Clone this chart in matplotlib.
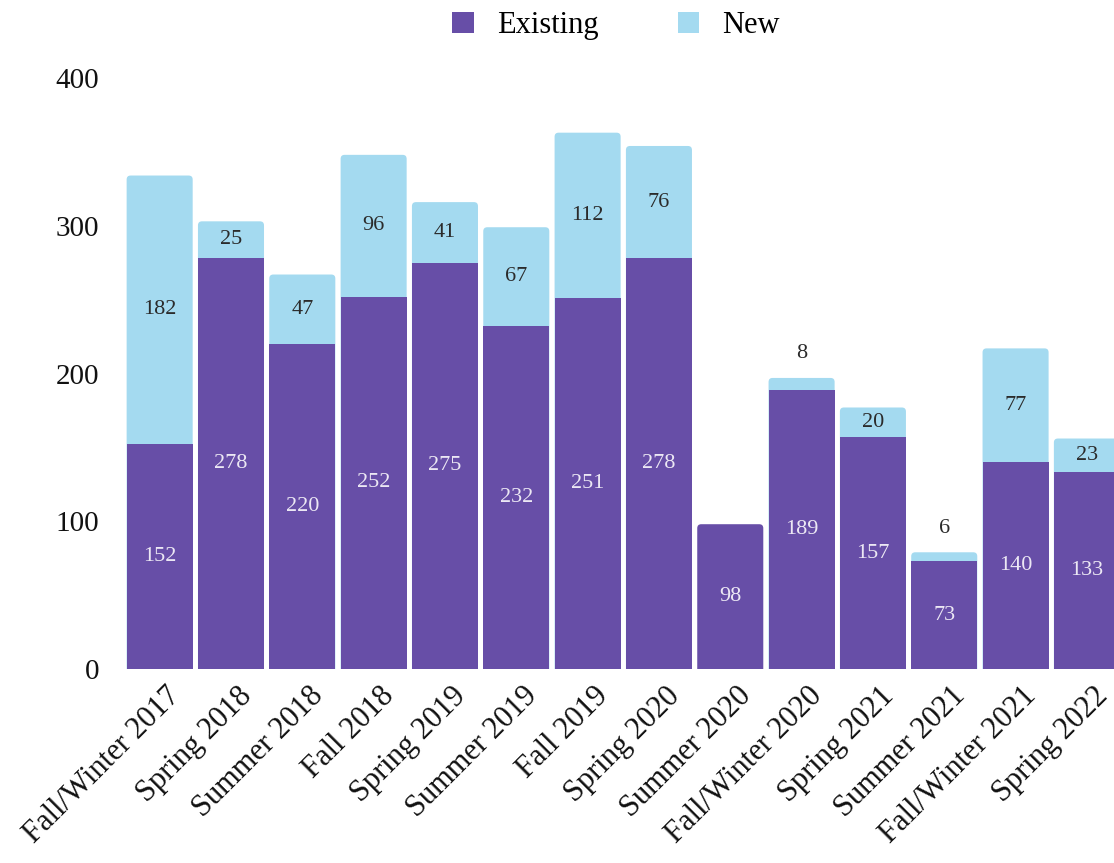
import matplotlib
matplotlib.use("Agg")
import matplotlib.pyplot as plt
import matplotlib.transforms as mtransforms
from matplotlib.patches import FancyBboxPatch, Patch

terms = ["Fall/Winter 2017", "Spring 2018", "Summer 2018", "Fall 2018",
         "Spring 2019", "Summer 2019", "Fall 2019", "Spring 2020",
         "Summer 2020", "Fall/Winter 2020", "Spring 2021", "Summer 2021",
         "Fall/Winter 2021", "Spring 2022"]
existing = [152, 278, 220, 252, 275, 232, 251, 278, 98, 189, 157, 73, 140, 133]
new = [182, 25, 47, 96, 41, 67, 112, 76, 0, 8, 20, 6, 77, 23]
yticks = [0, 100, 200, 300, 400]

purple = "#674ea7"
blue = "#a4daf0"
font = "Liberation Serif"

plt.rcParams["font.family"] = [font, "DejaVu Serif"]

fig = plt.figure(figsize=(11.14, 8.63), dpi=100)
ax = fig.add_axes([0.1113, 0.2248, 0.8887, 0.6848])

x = list(range(len(terms)))
w = 0.926
bars_e = ax.bar(x, existing, w, color=purple, zorder=3)
bars_n = ax.bar(x, new, w, bottom=existing, color=blue, zorder=2)

ax.set_xlim(-0.5, 13.38)
ax.set_ylim(0, 400)

# rounded tops: redraw each stack's top segment as a rounded box
fig.canvas.draw()
p0 = ax.transData.transform((0, 0))
p1 = ax.transData.transform((1, 1))
aspect = (p1[0] - p0[0]) / (p1[1] - p0[1])
r = 4.0 / (p1[0] - p0[0])
for i in x:
    top = bars_n[i] if new[i] > 0 else bars_e[i]
    col = blue if new[i] > 0 else purple
    total = existing[i] + new[i]
    top.set_visible(False)
    box = FancyBboxPatch((top.get_x(), -20), top.get_width(), total + 20,
                         boxstyle=f"round,pad=0,rounding_size={r}",
                         mutation_aspect=aspect, facecolor=col,
                         edgecolor="none", zorder=2)
    ax.add_patch(box)
    if new[i] > 0:
        bars_e[i].set_zorder(3)

# value labels
for i in x:
    ax.text(i, existing[i] / 2, str(existing[i]), ha="center", va="center",
            color="#ece8f4", fontsize=16, zorder=5)
    if new[i] >= 10:
        ax.text(i, existing[i] + new[i] / 2, str(new[i]), ha="center",
                va="center", color="#2b2b2b", fontsize=16, zorder=5)
    elif new[i] > 0:
        ax.text(i, existing[i] + new[i] + 10, str(new[i]), ha="center",
                va="bottom", color="#2b2b2b", fontsize=16, zorder=5)

ax.set_yticks(yticks)
ax.set_yticklabels([str(v) for v in yticks], fontsize=21, color="#111111")
ax.set_xticks(x)
ax.set_xticklabels(terms, rotation=45, ha="right", rotation_mode="anchor",
                   fontsize=22, color="#111111")
ax.tick_params(axis="both", length=0)
ax.tick_params(axis="y", pad=18)
ax.tick_params(axis="x", pad=9)
shift = mtransforms.ScaledTranslation(6 / 100, 0, fig.dpi_scale_trans)
for lbl in ax.get_xticklabels():
    lbl.set_transform(lbl.get_transform() + shift)
for s in ax.spines.values():
    s.set_visible(False)

handles = [Patch(facecolor=purple, edgecolor="none", label="Existing"),
           Patch(facecolor=blue, edgecolor="none", label="New")]
fig.legend(handles=handles, loc="center", bbox_to_anchor=(0.553, 0.97),
           ncol=2, frameon=False, fontsize=22, handlelength=0.7,
           handleheight=0.7, handletextpad=0.75, columnspacing=2.6)

fig.savefig("out.png", dpi=100)
